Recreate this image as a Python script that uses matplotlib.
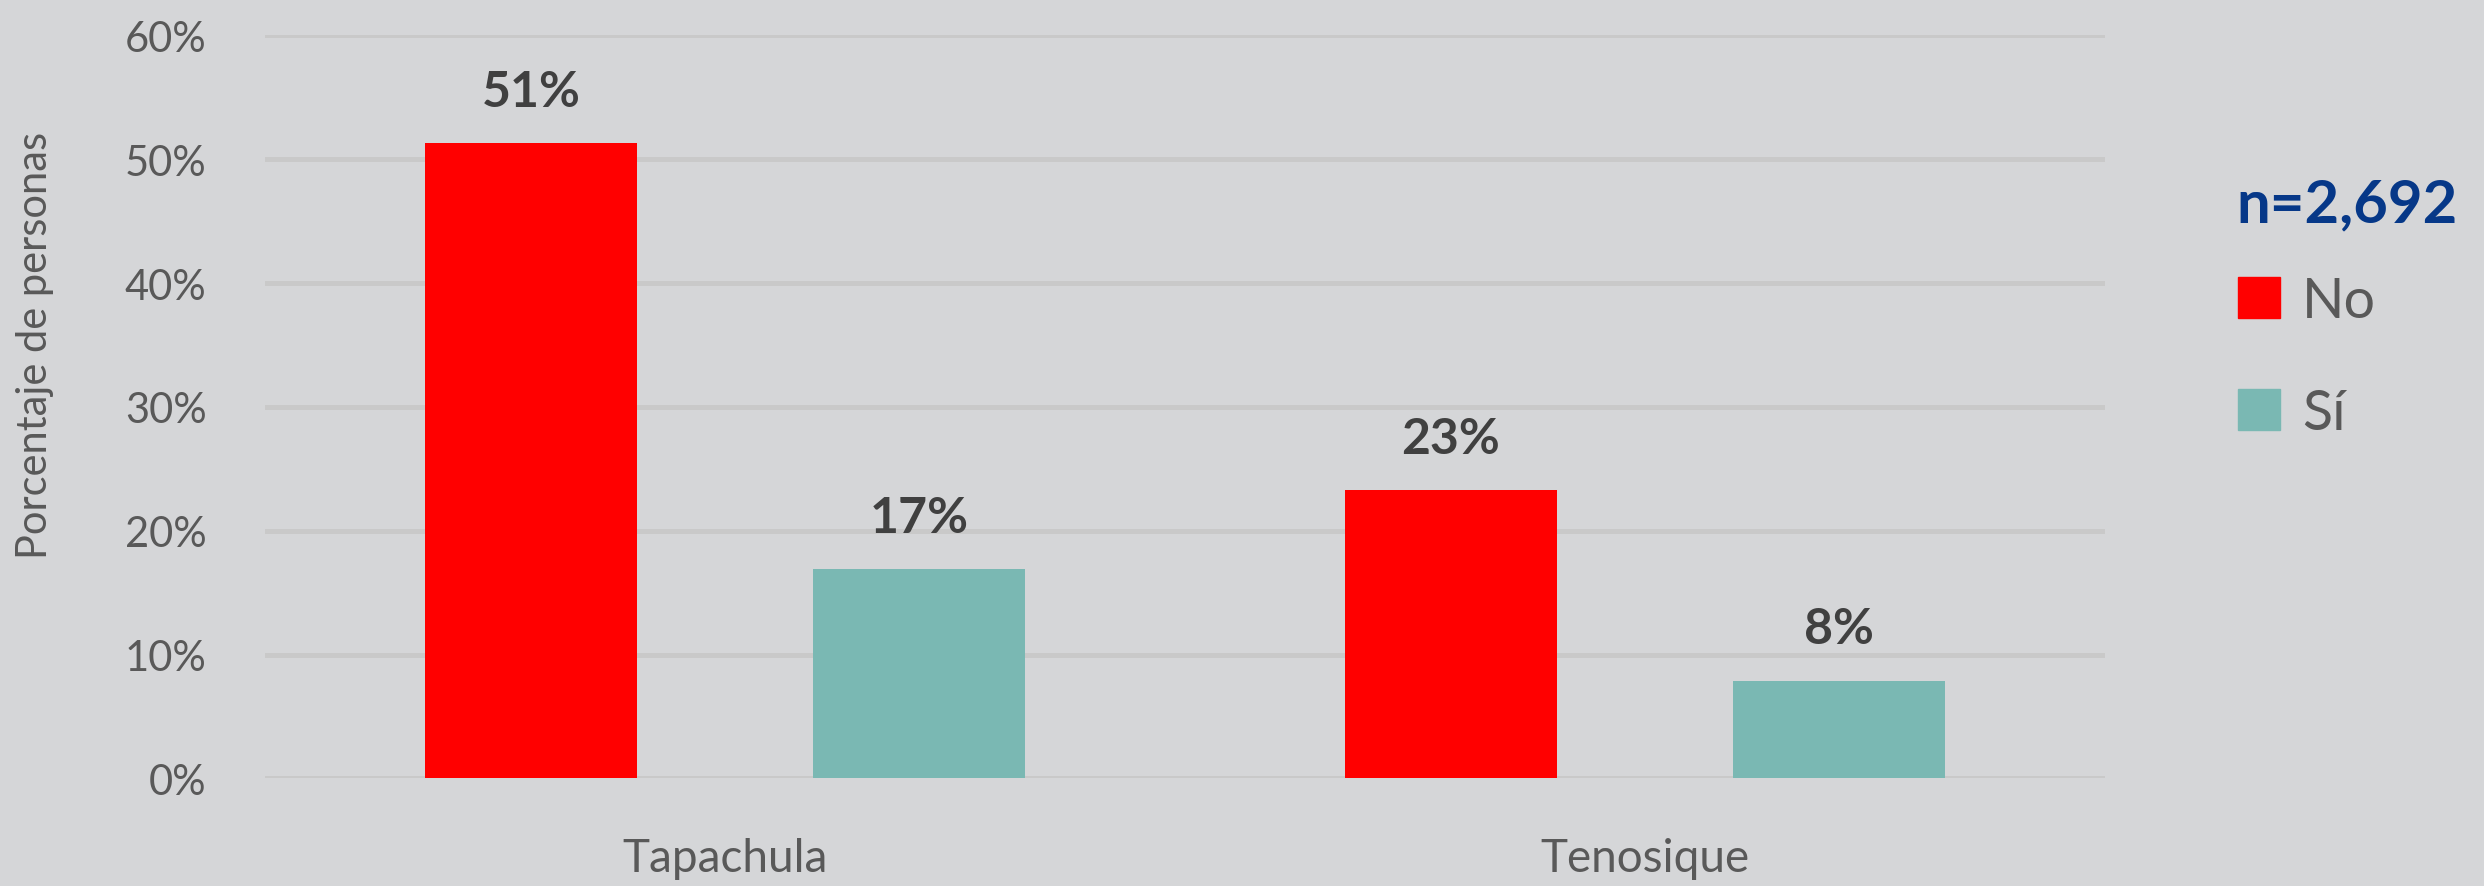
import matplotlib.pyplot as plt
import numpy as np
from matplotlib.patches import Patch

# data
cities = ['Tapachula', 'Tenosique']
series = ['No', 'Sí']
no_vals = [51.3, 23.3]
si_vals = [16.9, 7.9]
labels_no = ['51%', '23%']
labels_si = ['17%', '8%']
yticks = [0, 10, 20, 30, 40, 50, 60]
n_text = 'n=2,692'

bg = '#d5d6d8'
red = '#ff0000'
teal = '#7ab8b3'
txt = '#595959'

plt.rcParams['font.family'] = ['Lato', 'DejaVu Sans']

fig = plt.figure(figsize=(24.84, 8.87), dpi=100, facecolor=bg)
ax = fig.add_axes([0.1067, 0.1212, 0.7407, 0.8378])
ax.set_facecolor(bg)

x = np.arange(len(cities))
off = 0.211
w = 0.231
b1 = ax.bar(x - off, no_vals, w, color=red, zorder=3)
b2 = ax.bar(x + off, si_vals, w, color=teal, zorder=3)

for bars, labs in ((b1, labels_no), (b2, labels_si)):
    for rect, lab in zip(bars, labs):
        ax.annotate(lab, (rect.get_x() + rect.get_width() / 2, rect.get_height()),
                    xytext=(0, 21), textcoords='offset points', ha='center', va='bottom',
                    fontsize=36, fontweight='bold', color='#404040')

ax.set_xlim(-0.5, 1.5)
ax.set_ylim(0, 60)
ax.set_yticks(yticks)
ax.set_yticklabels([f'{t}%' for t in yticks])
ax.set_xticks(x)
ax.set_xticklabels(cities)
ax.tick_params(axis='both', length=0, colors=txt)
ax.tick_params(axis='y', pad=42, labelsize=30)
ax.tick_params(axis='x', pad=42, labelsize=33)
ax.yaxis.grid(True, color='#c9c9c9', linewidth=3.6, zorder=0)
ax.set_axisbelow(True)
for s in ax.spines.values():
    s.set_visible(False)

fig.text(0.014, 0.611, 'Porcentaje de personas', rotation=90, ha='center', va='center',
         fontsize=30, color=txt)

fig.text(0.9005, 0.768, n_text, ha='left', va='center', fontsize=43,
         fontweight='bold', color='#063888')

handles = [Patch(color=red), Patch(color=teal)]
leg = fig.legend(handles, series, loc='center left', bbox_to_anchor=(0.881, 0.596),
                 frameon=False, fontsize=40,
                 handlelength=0.75, handleheight=0.75, handletextpad=0.4,
                 labelspacing=1.1, labelcolor=txt)

fig.savefig('out.png', dpi=100, facecolor=bg)
